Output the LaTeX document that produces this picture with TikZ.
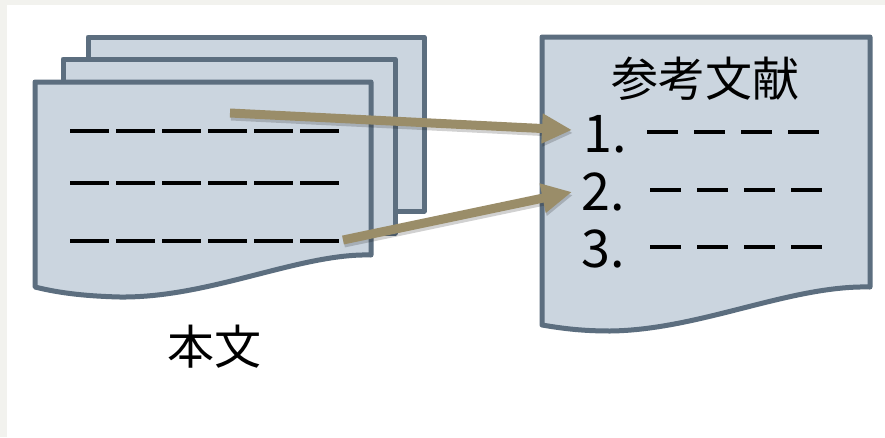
\documentclass[tikz,border=0pt]{standalone}
\usepackage{fontspec}
\setmainfont{Noto Sans CJK JP}
\usetikzlibrary{arrows.meta}
\definecolor{pageedge}{HTML}{5C6E7F}
\definecolor{pagefill}{HTML}{CBD5DF}
\definecolor{arrowcol}{HTML}{9A8D69}
\definecolor{bgband}{HTML}{F2F2EE}
\begin{document}
\begin{tikzpicture}[x=1pt,y=-1pt,
  page/.style={draw=pageedge, fill=pagefill, line width=5pt, line join=round},
  textdash/.style={draw=black, line width=4pt},
  refdash/.style={draw=black, line width=3.5pt, dash pattern=on 31pt off 16pt},
  bigtext/.style={font=\fontsize{47}{47}\selectfont, inner sep=0pt},
  numtext/.style={font=\fontsize{52}{52}\selectfont, inner sep=0pt, anchor=base west},
  linkarrow/.style={draw=arrowcol, line width=9pt, -{Triangle[width=28pt,length=30pt]}},
  linkshadow/.style={draw=black, opacity=0.18, line width=9pt, -{Triangle[width=28pt,length=30pt]}}
]
\useasboundingbox (0,0) rectangle (885,437);
\fill[bgband] (0,0) rectangle (885,437);
\fill[white] (7,5) rectangle (885,437);

% stacked pages (main text)
\draw[page] (88,37) rectangle (424,211);
\draw[page] (63,59) rectangle (395,233);
\draw[page] (35,82) -- (371,82) -- (371,255)
  .. controls (300,253) and (210,298) .. (120,297)
  .. controls (80,296) and (55,292) .. (35,287) -- cycle;
\draw[textdash, dash pattern=on 39pt off 7pt] (70,131) -- (339,131);
\draw[textdash, dash pattern=on 39pt off 7pt] (70,183) -- (339,183);
\draw[textdash, dash pattern=on 39pt off 7pt] (70,241) -- (339,241);
\node[bigtext] (honbun) at (214,347) {本文};

% references page
\draw[page] (542,37) -- (870,37) -- (870,287)
  .. controls (790,285) and (700,330) .. (610,331)
  .. controls (580,331) and (560,328) .. (542,325) -- cycle;
\node[bigtext] (title) at (705,79) {参考文献};
\node[numtext] (n1) at (583,152) {1.};
\node[numtext] (n2) at (581,210) {2.};
\node[numtext] (n3) at (581,267) {3.};
\draw[refdash] (647,132) -- (819,132);
\draw[refdash] (650,190) -- (822,190);
\draw[refdash] (650,247) -- (822,247);

% arrows
\coordinate (a1s) at (230,113);
\coordinate (a1e) at (572,130);
\coordinate (a2s) at (343,240);
\coordinate (a2e) at (572,192);
\draw[linkshadow, transform canvas={xshift=1pt,yshift=-3pt}] (a1s) -- (a1e);
\draw[linkshadow, transform canvas={xshift=1pt,yshift=-3pt}] (a2s) -- (a2e);
\draw[linkarrow] (a1s) -- (a1e);
\draw[linkarrow] (a2s) -- (a2e);
\end{tikzpicture}
\end{document}
